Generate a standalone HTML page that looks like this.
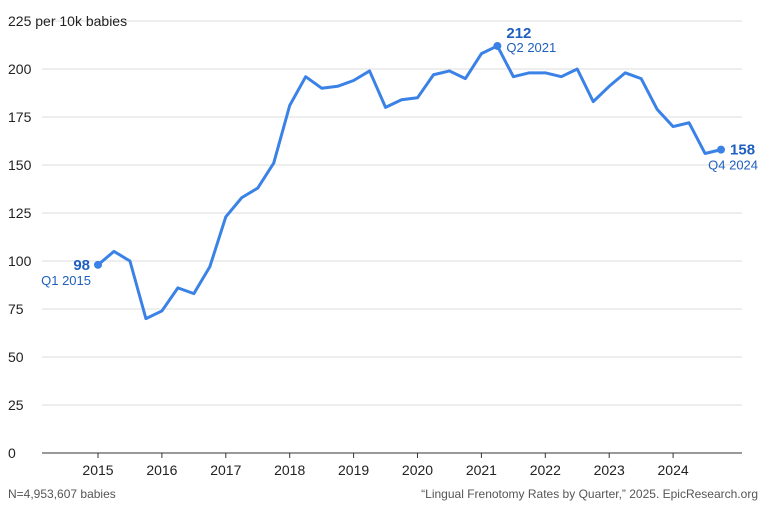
<!DOCTYPE html>
<html><head><meta charset="utf-8"><style>
body{margin:0;background:#fff;width:768px;height:512px;overflow:hidden;font-family:"Liberation Sans",sans-serif}
</style></head><body>
<svg id="chart" width="768" height="512" xmlns="http://www.w3.org/2000/svg" font-family="Liberation Sans, sans-serif">
<g id="grid"></g>
<g id="yticks"></g>
<g id="xticks"></g>
<path id="line" fill="none" stroke="#3b82e6" stroke-width="3" stroke-linejoin="round"></path>
<g id="ann"></g>
<text x="8" y="498" font-size="12" fill="#555">N=4,953,607 babies</text>
<text x="758" y="498" font-size="12" fill="#555" text-anchor="end">“Lingual Frenotomy Rates by Quarter,” 2025. EpicResearch.org</text>
</svg>
<script>
const years = [2015,2016,2017,2018,2019,2020,2021,2022,2023,2024];
const yTicks = [0,25,50,75,100,125,150,175,200,225];
const rates = [98,105,100,70,74,86,83,97,123,133,138,151,181,196,190,191,194,199,180,184,185,197,199,195,208,212,196,198,198,196,200,183,191,198,195,179,170,172,156,158];
const labels = [{i:0,v:"98",q:"Q1 2015",side:"left"},{i:25,v:"212",q:"Q2 2021",side:"right"},{i:39,v:"158",q:"Q4 2024",side:"right"}];
const NS="http://www.w3.org/2000/svg";
const x0=98, perYear=63.9;
function xScale(qi){return x0+qi*perYear/4;}
function yScale(v){return 453-v*1.92;}
function mk(tag,attrs,parent,text){const e=document.createElementNS(NS,tag);for(const k in attrs)e.setAttribute(k,attrs[k]);if(text!==undefined)e.textContent=text;parent.appendChild(e);return e;}
const grid=document.getElementById('grid'),yt=document.getElementById('yticks'),xt=document.getElementById('xticks'),ann=document.getElementById('ann');
yTicks.forEach(t=>{
  const y=yScale(t);
  const l=mk('line',{x1:42,x2:742,y1:y,y2:y,stroke:t===0?'#333':'#ddd','stroke-width':1},grid);
  
  
  const tx=mk('text',{x:8,y:y+5,'font-size':14,fill:'#222'},yt,t===225?'225 per 10k babies':String(t));
  
  
});
years.forEach((yr,k)=>{
  const x=xScale(k*4);
  const tk=mk('line',{x1:x,x2:x,y1:453,y2:458,stroke:'#333'},xt);
  
  
  const tx=mk('text',{x:x,y:475,'font-size':14,fill:'#222','text-anchor':'middle'},xt,String(yr));
  
  
});
document.getElementById('line').setAttribute('d',rates.map((v,i)=>(i?'L':'M')+xScale(i)+','+yScale(v)).join(''));
labels.forEach(a=>{
  const x=xScale(a.i),y=yScale(rates[a.i]);
  const c=mk('circle',{cx:x,cy:y,r:4,fill:'#3b82e6'},ann);
  
  
  let v,q;
  if(a.side==='left'){
    v=mk('text',{x:x-8,y:y+5,'font-size':15,'font-weight':'bold',fill:'#1f5fbf','text-anchor':'end'},ann,a.v);
    q=mk('text',{x:x-7,y:y+20,'font-size':13,fill:'#1f5fbf','text-anchor':'end'},ann,a.q);
  } else if(a.i===25){
    v=mk('text',{x:x+9,y:y-8,'font-size':15,'font-weight':'bold',fill:'#1f5fbf'},ann,a.v);
    q=mk('text',{x:x+9,y:y+6,'font-size':13,fill:'#1f5fbf'},ann,a.q);
  } else {
    v=mk('text',{x:x+9,y:y+5,'font-size':15,'font-weight':'bold',fill:'#1f5fbf'},ann,a.v);
    q=mk('text',{x:x+37,y:y+20,'font-size':13,fill:'#1f5fbf','text-anchor':'end'},ann,a.q);
  }
  
  
  
  
});
</script>
</body></html>
